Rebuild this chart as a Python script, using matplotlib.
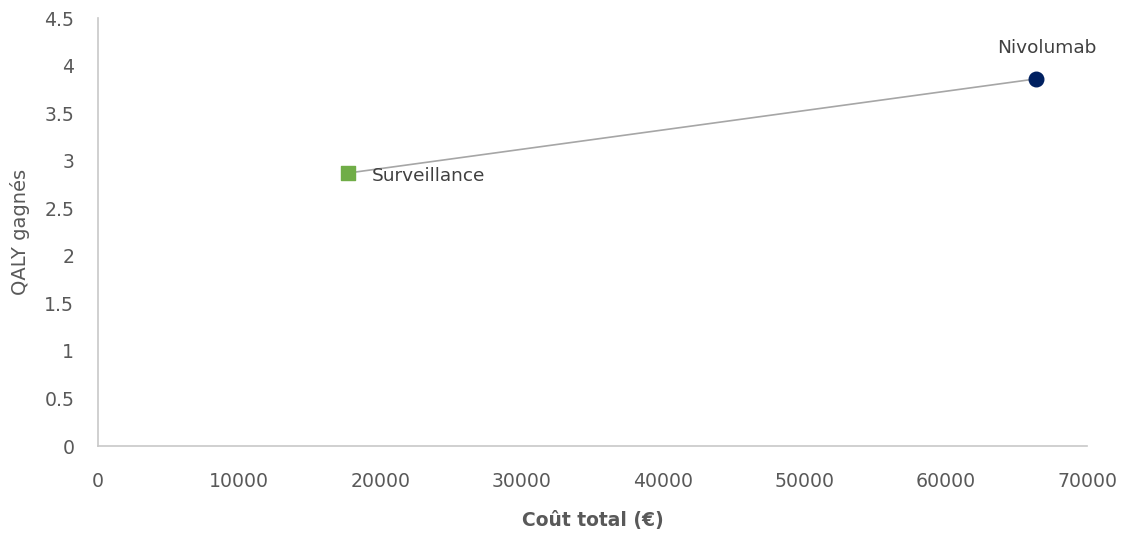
import matplotlib
matplotlib.use('Agg')
import matplotlib.pyplot as plt

strategies = ['Surveillance', 'Nivolumab']
costs = [17700, 66400]
qalys = [2.87, 3.86]
x_ticks = [0, 10000, 20000, 30000, 40000, 50000, 60000, 70000]
y_ticks = [0, 0.5, 1, 1.5, 2, 2.5, 3, 3.5, 4, 4.5]

plt.rcParams['font.family'] = ['DejaVu Sans']
grey = '#595959'

fig = plt.figure(figsize=(11.21, 5.33), dpi=100)
ax = fig.add_axes([0.0874, 0.1632, 0.8823, 0.803])

# line between the two strategies
ax.plot(costs, qalys, color='#a6a6a6', lw=1.2, zorder=1)
ax.scatter(costs[0], qalys[0], marker='s', s=110, color='#70ad47', zorder=3)
ax.scatter(costs[1], qalys[1], marker='o', s=110, color='#002060', zorder=3)

ax.annotate(strategies[0], (costs[0], qalys[0]), xytext=(17, -2), textcoords='offset points',
            ha='left', va='center', fontsize=13.3, color='#404040')
ax.annotate(strategies[1], (costs[1], qalys[1]), xytext=(8, 22), textcoords='offset points',
            ha='center', va='center', fontsize=13.3, color='#404040')

ax.set_xlim(0, 70000)
ax.set_ylim(0, 4.5)
ax.set_xticks(x_ticks)
ax.set_xticklabels([str(t) for t in x_ticks])
ax.set_yticks(y_ticks)
ax.set_yticklabels([f'{t:g}' for t in y_ticks])
ax.tick_params(length=0, colors=grey, labelsize=13.6)
ax.tick_params(axis='x', pad=19)
ax.tick_params(axis='y', pad=17)

for s in ['top', 'right']:
    ax.spines[s].set_visible(False)
for s in ['left', 'bottom']:
    ax.spines[s].set_color('#c8c8c8')
    ax.spines[s].set_linewidth(1.2)

ax.set_xlabel('Coût total (€)', fontsize=13.5, fontweight='bold', color=grey, labelpad=14)
ax.set_ylabel('QALY gagnés', fontsize=14, color=grey, labelpad=10)

fig.savefig('out.png', dpi=100)
